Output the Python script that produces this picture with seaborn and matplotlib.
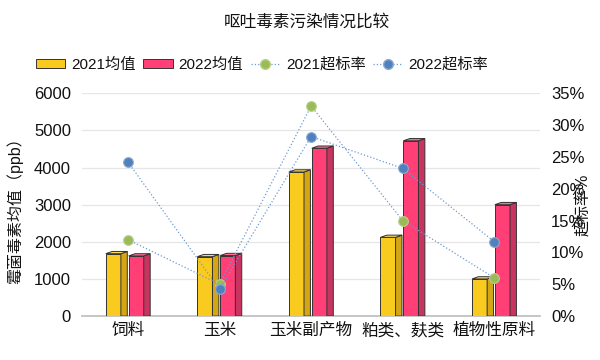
import numpy as np
import pandas as pd
import matplotlib
matplotlib.use('Agg')
import matplotlib.pyplot as plt
from matplotlib.patches import Polygon, Patch
from matplotlib.lines import Line2D
from matplotlib.ticker import PercentFormatter
import seaborn as sns

# --- data ---
categories = ['饲料', '玉米', '玉米副产物', '粕类、麸类', '植物性原料']
mean_2021 = [1680, 1600, 3880, 2120, 1000]
mean_2022 = [1620, 1630, 4520, 4720, 3000]
rate_2021 = [0.12, 0.05, 0.33, 0.15, 0.06]
rate_2022 = [0.242, 0.042, 0.282, 0.232, 0.117]
series_names = ['2021均值', '2022均值']
rate_names = ['2021超标率', '2022超标率']

# --- style ---
sns.set_theme(style='white')
plt.rcParams['font.family'] = ['Liberation Sans', 'Noto Sans CJK SC', 'DejaVu Sans']

FACE = {'2021均值': '#F9CB1E', '2022均值': '#FF3F76'}
SIDE = {'2021均值': '#D4A515', '2022均值': '#C9335F'}
TOP = {'2021均值': '#FBDA5C', '2022均值': '#FF6F98'}
GREEN = '#9BBB59'
BLUE = '#4F81BD'
LINE = '#6E9AD6'
TXT = '#111111'

df = pd.DataFrame({
    'cat': categories * 2,
    'series': [series_names[0]] * 5 + [series_names[1]] * 5,
    'value': mean_2021 + mean_2022,
})

fig = plt.figure(figsize=(6, 3.6), dpi=100)
ax = fig.add_axes([0.137, 0.122, 0.763, 0.619])

sns.barplot(data=df, x='cat', y='value', hue='series', palette=FACE, saturation=1,
            width=0.5, gap=0.34, ax=ax, legend=False, errorbar=None,
            edgecolor='#333333', linewidth=0.7, zorder=3)

# fake 3D side + top on each bar (seaborn draws hue groups in order)
depth = 0.07
dy = 60
bars = list(ax.patches)
for i, p in enumerate(bars):
    h = p.get_height()
    name = series_names[i // len(categories)]
    p.set_x(p.get_x() - depth / 2)
    x, w = p.get_x(), p.get_width()
    side = Polygon([(x + w, 0), (x + w + depth, 0), (x + w + depth, h + dy), (x + w, h)],
                   closed=True, facecolor=SIDE[name], edgecolor='#333333', linewidth=0.7, zorder=3)
    top = Polygon([(x, h), (x + w, h), (x + w + depth, h + dy), (x + depth, h + dy)],
                  closed=True, facecolor=TOP[name], edgecolor='#333333', linewidth=0.7, zorder=3)
    ax.add_patch(side)
    ax.add_patch(top)

ax.set_ylim(0, 6000)
ax.set_xlim(-0.5, 4.5)
ax.set_yticks(range(0, 6001, 1000))
ax.yaxis.grid(True, color='#E6E6E6', linewidth=0.9)
ax.set_axisbelow(True)
for s in ['top', 'right', 'left']:
    ax.spines[s].set_visible(False)
ax.spines['bottom'].set_color('#BFBFBF')
ax.tick_params(axis='both', length=0, labelsize=12, colors=TXT)
ax.tick_params(axis='x', pad=5)
ax.tick_params(axis='y', pad=8)
ax.set_xlabel('')
ax.set_ylabel('霉菌毒素均值（ppb）', fontsize=11.5, color=TXT)
ax.yaxis.set_label_coords(-0.128, 0.49)

# rates on the secondary axis
ax2 = ax.twinx()
xs = np.arange(len(categories))
sns.lineplot(x=xs, y=rate_2021, ax=ax2, color=LINE, linestyle=':', linewidth=0.9,
             marker='o', markersize=7, markerfacecolor=GREEN, markeredgecolor='#B8D08A',
             markeredgewidth=0.8, zorder=5)
sns.lineplot(x=xs, y=rate_2022, ax=ax2, color=LINE, linestyle=':', linewidth=0.9,
             marker='o', markersize=7, markerfacecolor=BLUE, markeredgecolor='#8DAAD3',
             markeredgewidth=0.8, zorder=5)
ax2.set_ylim(0, 0.35)
ax2.set_yticks(np.arange(0, 0.351, 0.05))
ax2.yaxis.set_major_formatter(PercentFormatter(1.0, decimals=0))
for s in ['top', 'right', 'left', 'bottom']:
    ax2.spines[s].set_visible(False)
ax2.tick_params(axis='y', length=0, labelsize=12, colors=TXT, pad=8)
ax2.set_ylabel('超标率%', fontsize=11.5, color=TXT)
ax2.yaxis.set_label_coords(1.076, 0.5)
ax2.set_xlim(-0.5, 4.5)

fig.suptitle('呕吐毒素污染情况比较', x=0.512, y=0.962, fontsize=12, color=TXT)

handles = [
    Patch(facecolor=FACE[series_names[0]], edgecolor='#333333', linewidth=0.7),
    Patch(facecolor=FACE[series_names[1]], edgecolor='#333333', linewidth=0.7),
    Line2D([], [], color=LINE, linestyle=':', linewidth=0.9, marker='o', markersize=7,
           markerfacecolor=GREEN, markeredgecolor='#B8D08A'),
    Line2D([], [], color=LINE, linestyle=':', linewidth=0.9, marker='o', markersize=7,
           markerfacecolor=BLUE, markeredgecolor='#8DAAD3'),
]
fig.legend(handles, series_names + rate_names, loc='center', bbox_to_anchor=(0.437, 0.82),
           ncol=4, frameon=False, fontsize=11, handlelength=1.9, handleheight=0.6,
           handletextpad=0.4, columnspacing=0.5, labelcolor=TXT)

fig.savefig('out.png', dpi=100)
